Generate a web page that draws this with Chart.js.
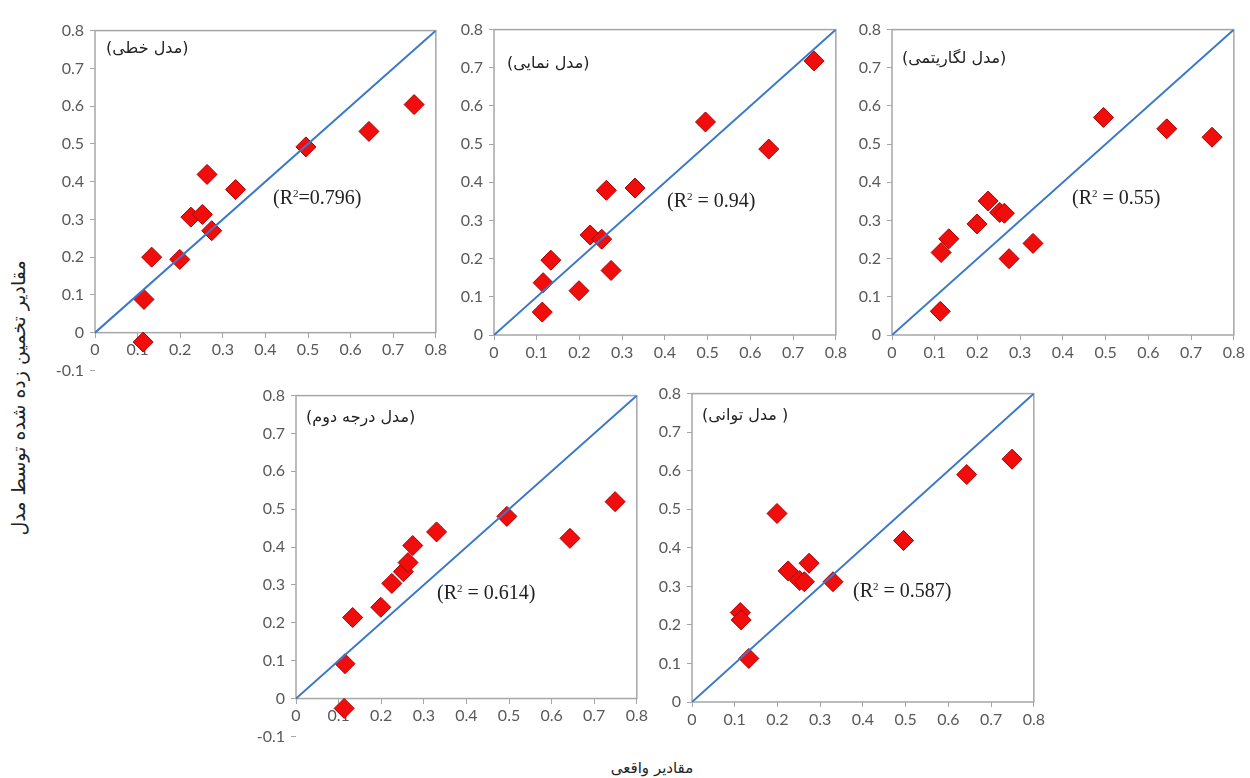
<!DOCTYPE html>
<html>
<head>
<meta charset="utf-8">
<script src="https://cdn.jsdelivr.net/npm/chart.js@4.4.1/dist/chart.umd.min.js"></script>
<style>
  body { margin: 0; background: #fff; width: 1250px; height: 778px; position: relative; overflow: hidden; }
  canvas { position: absolute; }
  .lbl { position: absolute; white-space: nowrap; transform: translateY(-50%); color: #222; }
  .model { font-family: "DejaVu Sans", sans-serif; font-size: 16px; direction: rtl; }
  .r2 { font-family: "Liberation Serif", serif; font-size: 20px; }
  .r2 sup { font-size: 11px; vertical-align: 7px; line-height: 0; }
  .title { position: absolute; font-family: "DejaVu Sans", sans-serif; color: #222; white-space: nowrap; direction: rtl; }
</style>
</head>
<body>

<canvas id="p1" width="400" height="371" style="left:50px;top:15px"></canvas>
<canvas id="p2" width="401" height="346" style="left:449px;top:14px"></canvas>
<canvas id="p3" width="401" height="346" style="left:847px;top:14px"></canvas>
<canvas id="p4" width="400" height="372" style="left:251px;top:380px"></canvas>
<canvas id="p5" width="401" height="349" style="left:647px;top:378px"></canvas>

<div class="lbl model" style="left:106px;top:47px">(مدل خطی)</div>
<div class="lbl model" style="left:507px;top:62px">(مدل نمایی)</div>
<div class="lbl model" style="left:902px;top:57px">(مدل لگاریتمی)</div>
<div class="lbl model" style="left:306px;top:416px">(مدل درجه دوم)</div>
<div class="lbl model" style="left:702px;top:414px">( مدل توانی)</div>

<div class="lbl r2" style="left:273px;top:197px">(R<sup>2</sup>=0.796)</div>
<div class="lbl r2" style="left:667px;top:200px">(R<sup>2</sup> = 0.94)</div>
<div class="lbl r2" style="left:1072px;top:197px">(R<sup>2</sup> = 0.55)</div>
<div class="lbl r2" style="left:437px;top:592px">(R<sup>2</sup> = 0.614)</div>
<div class="lbl r2" style="left:853px;top:590px">(R<sup>2</sup> = 0.587)</div>

<div class="title" style="left:18px;top:398px;font-size:19px;transform:translate(-50%,-50%) rotate(-90deg)">مقادیر تخمین زده شده توسط مدل</div>
<div class="title" style="left:652px;top:768px;font-size:15px;transform:translate(-50%,-50%)">مقادیر واقعی</div>

<script>
// observed values (x axis, shared by all panels)
var actual = [0.113, 0.115, 0.133, 0.199, 0.225, 0.252, 0.263, 0.274, 0.33, 0.495, 0.643, 0.749];

// predicted values per model
var linearPred = [-0.025, 0.088, 0.2, 0.194, 0.306, 0.313, 0.419, 0.27, 0.379, 0.492, 0.533, 0.604];
var expPred    = [0.06, 0.137, 0.196, 0.116, 0.262, 0.251, 0.379, 0.169, 0.385, 0.558, 0.487, 0.718];
var logPred    = [0.062, 0.216, 0.252, 0.291, 0.351, 0.321, 0.319, 0.2, 0.24, 0.57, 0.54, 0.518];
var quadPred   = [-0.026, 0.092, 0.214, 0.241, 0.304, 0.335, 0.359, 0.404, 0.44, 0.481, 0.423, 0.52];
var powerPred  = [0.232, 0.213, 0.113, 0.489, 0.34, 0.315, 0.312, 0.36, 0.312, 0.419, 0.59, 0.63];

// 1:1 reference line
var lineX = [0, 0.8];
var lineY = [0, 0.8];

var axisMax = 0.8;
var axisStep = 0.1;

function fmt(v) {
    if (Math.abs(v) < 1e-9) return '0';
    return v.toFixed(1);
}

// gray box from the top of the plot down to y = 0
var framePlugin = {
    id: 'frame',
    beforeDatasetsDraw: function (chart) {
        var a = chart.chartArea;
        var y0 = chart.scales.y.getPixelForValue(0);
        var ctx = chart.ctx;
        ctx.save();
        ctx.strokeStyle = '#a6a6a6';
        ctx.lineWidth = 1.5;
        ctx.strokeRect(a.left, a.top, a.right - a.left, y0 - a.top);
        ctx.restore();
    }
};

function makeChart(id, pred, yMin) {
    var tickFont = { family: 'Lato', size: 16 };
    var belowZero = yMin < 0;

    new Chart(document.getElementById(id), {
        type: 'scatter',
        data: {
            datasets: [{
                data: lineX.map(function (x, i) { return { x: x, y: lineY[i] }; }),
                showLine: true,
                borderColor: '#3b78c9',
                borderWidth: 2,
                pointRadius: 0,
                order: 1
            }, {
                data: actual.map(function (x, i) { return { x: x, y: pred[i] }; }),
                pointStyle: 'rectRot',
                pointRadius: 10,
                backgroundColor: '#f20d0d',
                borderColor: '#a80000',
                borderWidth: 1,
                order: 2,
                clip: false
            }]
        },
        options: {
            responsive: false,
            animation: false,
            layout: { padding: { top: 10, right: 12, bottom: belowZero ? 10 : 0, left: 0 } },
            plugins: { legend: { display: false }, tooltip: { enabled: false } },
            scales: {
                x: {
                    type: 'linear',
                    min: 0,
                    max: axisMax,
                    position: belowZero ? { y: 0 } : 'bottom',
                    ticks: { stepSize: axisStep, callback: fmt, color: '#595959', font: tickFont, padding: 3, maxRotation: 0 },
                    grid: { drawOnChartArea: false, drawTicks: true, tickLength: 5, color: '#a6a6a6' },
                    border: { display: false },
                    afterFit: function (s) { s.height = 25; }
                },
                y: {
                    min: yMin,
                    max: axisMax,
                    ticks: { stepSize: axisStep, callback: fmt, color: '#595959', font: tickFont, padding: 6 },
                    grid: { drawOnChartArea: false, drawTicks: true, tickLength: 5, color: '#a6a6a6' },
                    border: { display: false },
                    afterFit: function (s) { s.width = 45; }
                }
            }
        },
        plugins: [framePlugin]
    });
}

makeChart('p1', linearPred, -0.1);
makeChart('p2', expPred, 0);
makeChart('p3', logPred, 0);
makeChart('p4', quadPred, -0.1);
makeChart('p5', powerPred, 0);
</script>
</body>
</html>
